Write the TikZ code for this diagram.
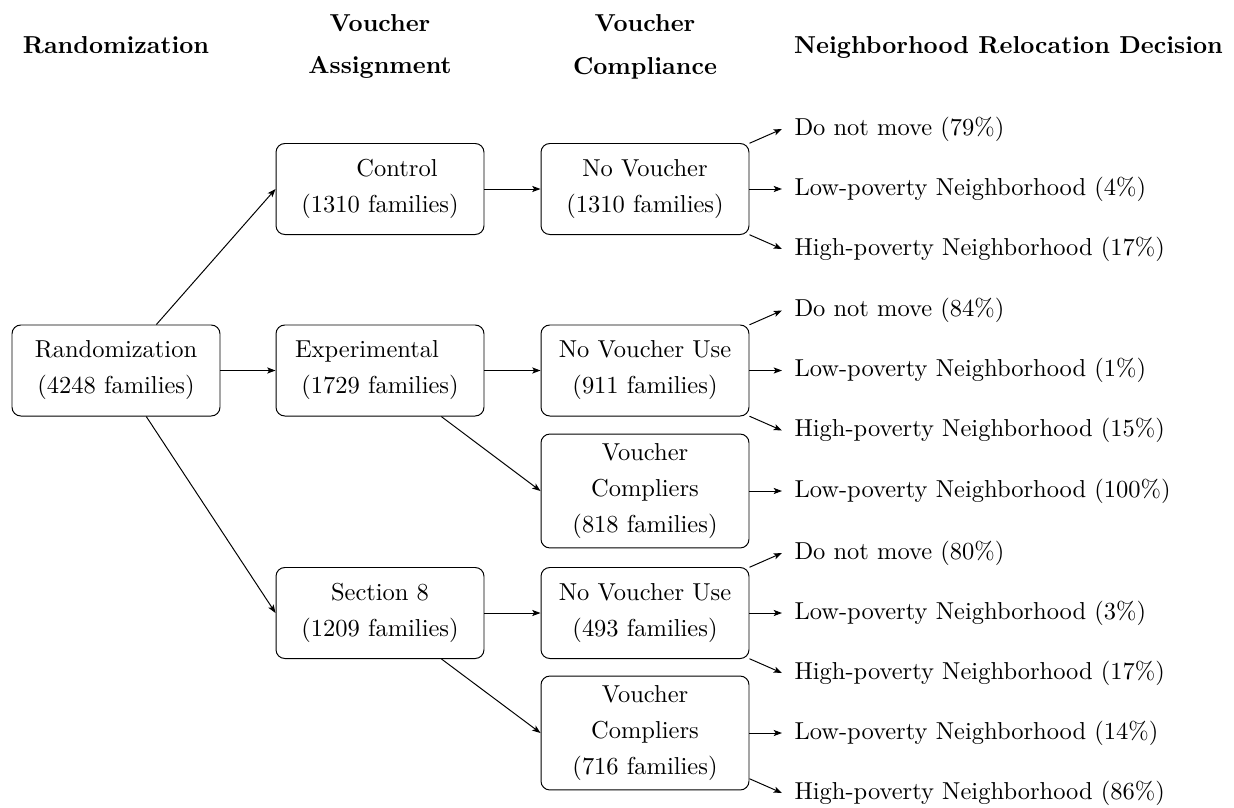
\documentclass[tikz,border=0pt]{standalone}
\usetikzlibrary{arrows.meta}
\begin{document}
\begin{tikzpicture}[x=0.4082pt,y=-0.4082pt,
  box/.style={draw,rounded corners=3.6pt,minimum width=84.9pt,minimum height=37.15pt,
    align=center,inner sep=3pt,font=\fontsize{10pt}{14.7pt}\selectfont},
  tallbox/.style={box,minimum height=46.5pt},
  hdr/.style={align=center,inner sep=0pt,font=\bfseries\fontsize{10pt}{17.3pt}\selectfont},
  lab/.style={anchor=west,inner xsep=4.9pt,inner ysep=2pt,font=\fontsize{10pt}{12pt}\selectfont},
  arr/.style={-{Stealth[length=3.4pt,width=2.5pt,inset=0.8pt]},line width=0.4pt}]
\useasboundingbox (0,0) rectangle (1234,807);
% headers
\node[hdr,anchor=base] (h1) at (116,53) {Randomization};
\node[hdr] (h2) at (380,46.7) {Voucher\\Assignment};
\node[hdr] (h3) at (645,46.7) {Voucher\\Compliance};
\node[hdr,anchor=base] (h4) at (1008.5,53) {Neighborhood Relocation Decision};
% boxes
\node[box] (rand) at (116,370.5) {Randomization\\(4248 families)};
\node[box] (ctrl) at (380,189) {\hspace*{13.9pt}Control\\(1310 families)};
\node[box] (exp) at (380,370.5) {\hspace*{-10.6pt}Experimental\\(1729 families)};
\node[box] (s8) at (380,613) {Section 8\\(1209 families)};
\node[box] (nv) at (645,189) {No Voucher\\(1310 families)};
\node[box] (nvu1) at (645,370.5) {No Voucher Use\\(911 families)};
\node[tallbox] (vc1) at (645,491) {Voucher\\Compliers\\(818 families)};
\node[box] (nvu2) at (645,613) {No Voucher Use\\(493 families)};
\node[tallbox] (vc2) at (645,733) {Voucher\\Compliers\\(716 families)};
% labels
\node[lab] (a1) at (782,129) {Do not move (79\%)};
\node[lab] (a2) at (782,189) {Low-poverty Neighborhood (4\%)};
\node[lab] (a3) at (782,249) {High-poverty Neighborhood (17\%)};
\node[lab] (b1) at (782,310.5) {Do not move (84\%)};
\node[lab] (b2) at (782,370.5) {Low-poverty Neighborhood (1\%)};
\node[lab] (b3) at (782,430.5) {High-poverty Neighborhood (15\%)};
\node[lab] (c1) at (782,491) {Low-poverty Neighborhood (100\%)};
\node[lab] (d1) at (782,553) {Do not move (80\%)};
\node[lab] (d2) at (782,613) {Low-poverty Neighborhood (3\%)};
\node[lab] (d3) at (782,673) {High-poverty Neighborhood (17\%)};
\node[lab] (e1) at (782,733) {Low-poverty Neighborhood (14\%)};
\node[lab] (e2) at (782,793) {High-poverty Neighborhood (86\%)};
% connectors
\draw[arr] (rand) -- (ctrl.west);
\draw[arr] (rand) -- (exp);
\draw[arr] (rand) -- (s8.west);
\draw[arr] (ctrl) -- (nv);
\draw[arr] (exp) -- (nvu1);
\draw[arr] (exp) -- (vc1.west);
\draw[arr] (s8) -- (nvu2);
\draw[arr] (s8) -- (vc2.west);
\draw[arr] (nv) -- (a1.west);
\draw[arr] (nv) -- (a2.west);
\draw[arr] (nv) -- (a3.west);
\draw[arr] (nvu1) -- (b1.west);
\draw[arr] (nvu1) -- (b2.west);
\draw[arr] (nvu1) -- (b3.west);
\draw[arr] (vc1) -- (c1.west);
\draw[arr] (nvu2) -- (d1.west);
\draw[arr] (nvu2) -- (d2.west);
\draw[arr] (nvu2) -- (d3.west);
\draw[arr] (vc2) -- (e1.west);
\draw[arr] (vc2) -- (e2.west);
\end{tikzpicture}
\end{document}
